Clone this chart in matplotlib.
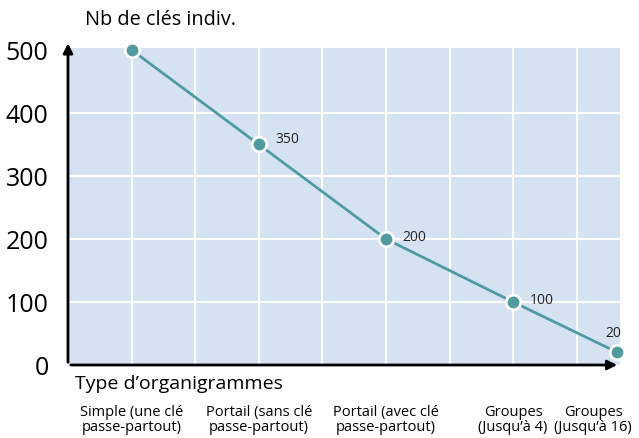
import matplotlib
matplotlib.use("Agg")
import matplotlib.pyplot as plt

plt.rcParams['font.family'] = ['Open Sans', 'DejaVu Sans']

categories = ["Simple (une clé\npasse-partout)", "Portail (sans clé\npasse-partout)",
              "Portail (avec clé\npasse-partout)", "Groupes\n(Jusqu’à 4)", "Groupes\n(Jusqu’à 16)"]
values = [500, 350, 200, 100, 20]
xpos = [0, 1, 2, 3, 3.82]
label_xpos = [0, 1, 2, 3, 3.63]
yticks = [0, 100, 200, 300, 400, 500]

fig = plt.figure(figsize=(6.39, 4.39), dpi=100)
ax = fig.add_axes([0.1064, 0.1663, 0.8638, 0.722])
ax.set_facecolor('#d5e2f2')
ax.set_xlim(-0.5, 3.84)
ax.set_ylim(0, 503)

for x in [-0.5 + 0.5 * i for i in range(1, 9)]:
    ax.axvline(x, color='white', lw=1.5, zorder=1)
for y in yticks[1:-1]:
    ax.axhline(y, color='white', lw=1.5, zorder=1)

ax.plot(xpos, values, color='#4f9ba1', lw=2, zorder=3, clip_on=False)
ax.plot(xpos, values, 'o', ms=10.5, mfc='#4f9ba1', mec='white', mew=2, zorder=4, clip_on=False)

offsets = {1: (12, 4, 'left', 'center'), 2: (12, 2, 'left', 'center'),
           3: (12, 2, 'left', 'center'), 4: (-3, 14, 'center', 'center')}
for i, (o) in offsets.items():
    ax.annotate(str(values[i]), (xpos[i], values[i]), xytext=(o[0], o[1]),
                textcoords='offset points', ha=o[2], va=o[3], fontsize=10, color='#222222')

for s in ['top', 'right', 'left', 'bottom']:
    ax.spines[s].set_visible(False)
ax.set_xticks([])
ax.set_yticks(yticks)
ax.set_yticklabels([str(v) for v in yticks], fontsize=18)
ax.tick_params(axis='y', length=0, pad=14)

# axis arrows
ax.annotate('', xy=(-0.5, 515), xytext=(-0.5, 0), xycoords='data',
            arrowprops=dict(arrowstyle='-|>', color='black', lw=2, mutation_scale=14), annotation_clip=False)
ax.annotate('', xy=(3.84, 0), xytext=(-0.5, 0), xycoords='data',
            arrowprops=dict(arrowstyle='-|>', color='black', lw=2, mutation_scale=14), annotation_clip=False)

fig.text(85 / 639, 1 - 20 / 439, "Nb de clés indiv.", fontsize=14.3, ha='left', va='center')
fig.text(75 / 639, 1 - 384 / 439, "Type d’organigrammes", fontsize=14, ha='left', va='center')

for lx, lab in zip(label_xpos, categories):
    ax.text(lx, -0.17, lab, transform=ax.get_xaxis_transform(), ha='center', va='center',
            fontsize=10.5, linespacing=1.05)

fig.savefig("out.png", dpi=100)
